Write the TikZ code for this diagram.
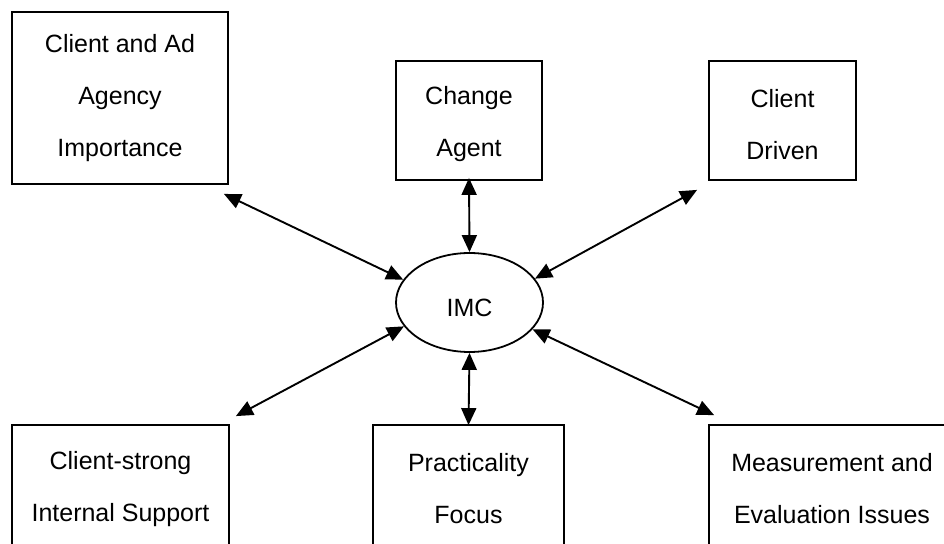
\documentclass[tikz,border=0pt]{standalone}
\usepackage{fontspec}
\setmainfont{Liberation Sans}
\usetikzlibrary{arrows.meta,shapes.geometric}
\begin{document}
\begin{tikzpicture}[x=1bp,y=-1bp,
  box/.style={draw, line width=1.8bp, align=center, inner sep=0pt,
    font=\fontsize{25bp}{52bp}\selectfont},
  hub/.style={draw, ellipse, line width=1.8bp, minimum width=147bp,
    minimum height=99bp, inner sep=0pt, font=\fontsize{25bp}{28bp}\selectfont},
  tip/.tip={Triangle[length=17bp,width=15bp]},
  link/.style={line width=1.9bp, tip-tip}]
\useasboundingbox (0,0) rectangle (944,544);

% central concept
\node[hub] (imc) at (469.5,302.5) {\raisebox{-14.5bp}[0pt][0pt]{IMC}};

% upper row
\node[box, minimum width=216bp, minimum height=172bp] (b1) at (120,98)
  {Client and Ad\\Agency\\Importance};
\node[box, minimum width=146bp, minimum height=119bp] (b2) at (469,120.5)
  {\rule{0pt}{26bp}Change\\Agent};
\node[box, minimum width=147bp, minimum height=119bp] (b3) at (782.5,120.5)
  {\rule{0pt}{26bp}Client\\Driven};

% lower row (boxes run past the bottom edge)
\node[box, minimum width=217bp, minimum height=128bp] (b4) at (120.5,489)
  {Client-strong\\Internal Support};
\node[box, minimum width=191bp, minimum height=128bp] (b5) at (468.5,489)
  {Practicality\\Focus};
\node[box, minimum width=246bp, minimum height=128bp] (b6) at (832,489)
  {Measurement and\\Evaluation Issues};

% two-way links to the centre
\draw[link] ([shift={(-5,9)}]b1.south east) -- (imc.161);
\draw[link] ([yshift=3]b2.south) -- (imc.north);
\draw[link] ([shift={(-11,9)}]b3.south west) -- (imc.20);
\draw[link] ([shift={(6,-8)}]b4.north east) -- (imc.200);
\draw[link] (imc.south) -- ([yshift=-1]b5.north);
\draw[link] ([shift={(6,-9)}]b6.north west) -- (imc.-23);
\end{tikzpicture}
\end{document}
